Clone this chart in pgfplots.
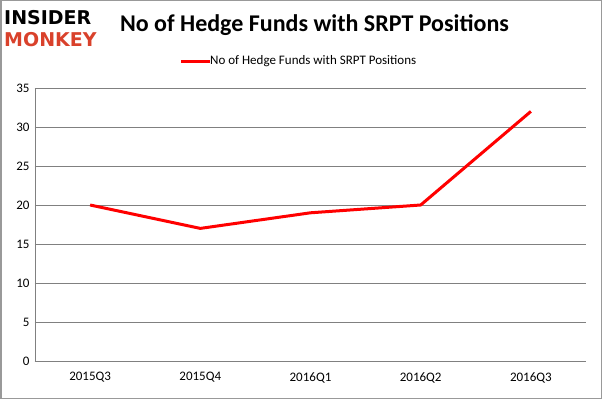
\documentclass[border=0pt]{standalone}
\usepackage{pgfplots}
\pgfplotsset{compat=1.18}
\usepackage{fontspec}
\setmainfont{Carlito}
\newfontfamily\logofont{DejaVu Sans}
\definecolor{logored}{HTML}{D9412B}
\begin{document}
\begin{tikzpicture}[x=1pt,y=1pt]
\draw[gray!80,line width=1.5pt] (0.75,0.75) rectangle (601.25,398.25);
\begin{axis}[
  at={(35pt,38pt)}, anchor=south west,
  width=551pt, height=273pt, scale only axis,
  xmin=-0.5, xmax=4.5, ymin=0, ymax=35,
  xtick={0,1,2,3,4},
  xticklabels={2015Q3,2015Q4,2016Q1,2016Q2,2016Q3},
  extra x ticks={-0.5,0.5,1.5,2.5,3.5,4.5},
  extra x tick labels={},
  extra x tick style={major tick length=5pt, tick style={gray}, grid=none},
  ytick={0,5,...,35},
  ymajorgrids, grid style={gray, line width=0.8pt},
  axis x line*=bottom, axis y line*=left,
  x axis line style={gray, line width=0.8pt},
  y axis line style={gray, line width=0.8pt},
  major x tick style={draw=none},
  major y tick style={gray},
  major tick length=5pt,
  tick label style={font=\fontsize{13}{15}\selectfont},
  xticklabel style={yshift=-8pt},
  yticklabel style={xshift=-2pt},
  /pgf/number format/assume math mode=true,
]
\addplot[red, line width=3pt, line join=round] coordinates {(0,20) (1,17) (2,19) (3,20) (4,32)};
\end{axis}
\node[font=\fontsize{24}{28}\selectfont\bfseries, anchor=center] at (314.5,374) {No of Hedge Funds with SRPT Positions};
\draw[red, line width=3pt] (181,337.5) -- (210,337.5);
\node[font=\fontsize{13}{15}\selectfont, anchor=west, inner sep=0pt] at (210,337.5) {No of Hedge Funds with SRPT Positions};
\node[font=\logofont\fontsize{19}{20}\selectfont\bfseries, anchor=west, inner sep=0pt] at (4,381) {INSIDER};
\node[font=\logofont\fontsize{19}{20}\selectfont\bfseries, text=logored, anchor=west, inner sep=0pt] at (4,359) {MONKEY};
\end{tikzpicture}
\end{document}
